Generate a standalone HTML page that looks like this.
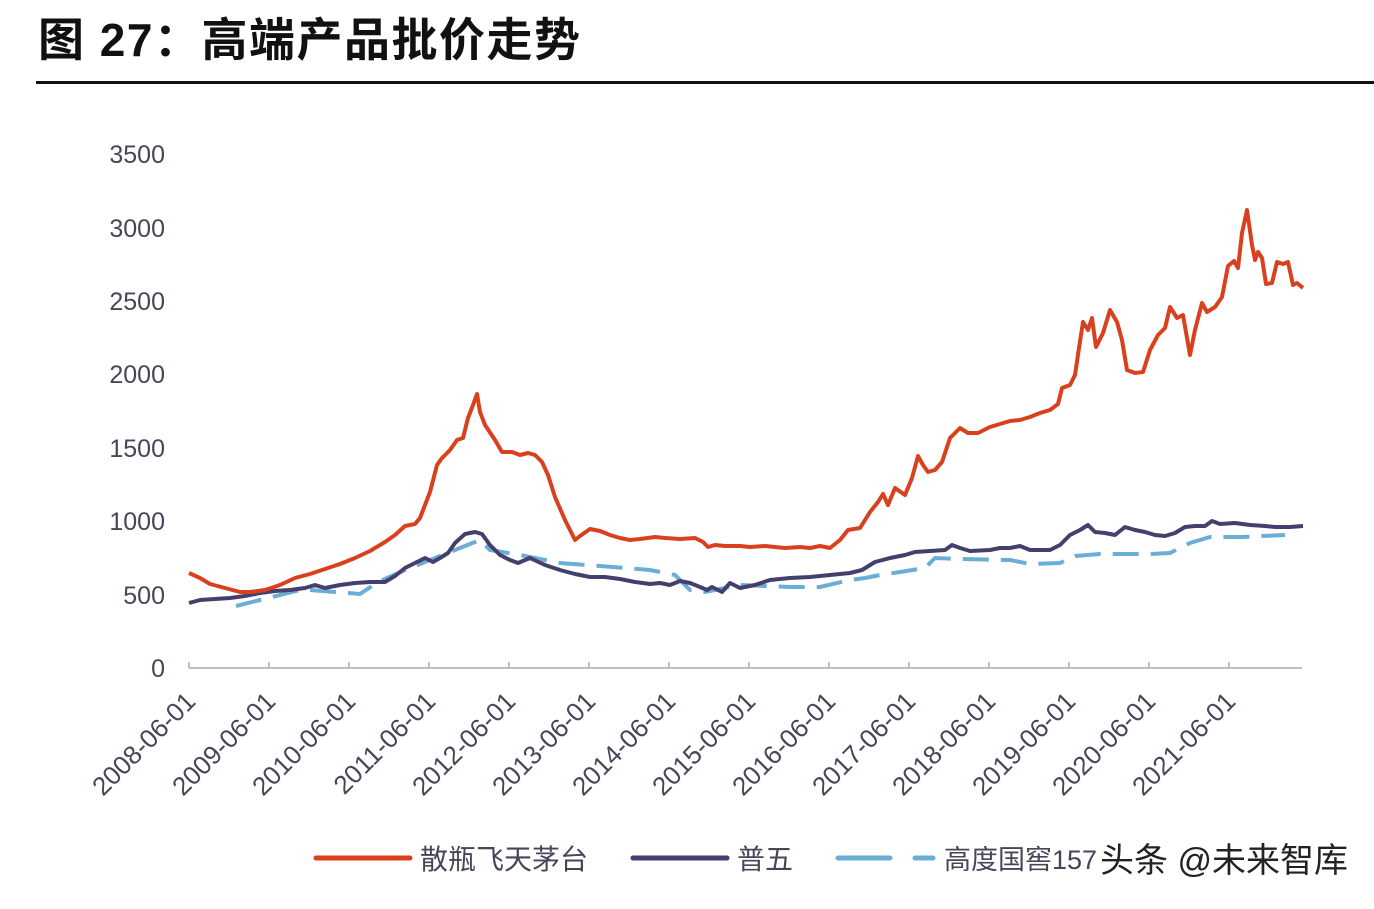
<!DOCTYPE html>
<html><head><meta charset="utf-8"><style>
body{margin:0;background:#fff;}
svg text{font-family:"Liberation Sans","Noto Sans CJK SC",sans-serif;}
</style></head><body>
<svg width="1374" height="904" viewBox="0 0 1374 904" xmlns="http://www.w3.org/2000/svg">
<rect width="1374" height="904" fill="#fff"/>
<text x="38" y="56" font-size="46" font-weight="bold" fill="#111" letter-spacing="1.5">图 27：高端产品批价走势</text>
<rect x="36" y="81" width="1338" height="3" fill="#111"/>
<g font-size="25" fill="#4a4458" text-anchor="end">
<text x="165" y="677">0</text><text x="165" y="604">500</text><text x="165" y="530">1000</text>
<text x="165" y="457">1500</text><text x="165" y="383">2000</text><text x="165" y="310">2500</text>
<text x="165" y="237">3000</text><text x="165" y="163">3500</text>
</g>
<line x1="189" y1="668" x2="1302" y2="668" stroke="#aaa" stroke-width="1.5"/>
<g stroke="#aaa" stroke-width="1.5">
<line x1="189" y1="662" x2="189" y2="668"/><line x1="269" y1="662" x2="269" y2="668"/><line x1="349" y1="662" x2="349" y2="668"/><line x1="429" y1="662" x2="429" y2="668"/><line x1="509" y1="662" x2="509" y2="668"/><line x1="589" y1="662" x2="589" y2="668"/><line x1="669" y1="662" x2="669" y2="668"/><line x1="749" y1="662" x2="749" y2="668"/><line x1="829" y1="662" x2="829" y2="668"/><line x1="909" y1="662" x2="909" y2="668"/><line x1="989" y1="662" x2="989" y2="668"/><line x1="1069" y1="662" x2="1069" y2="668"/><line x1="1149" y1="662" x2="1149" y2="668"/><line x1="1229" y1="662" x2="1229" y2="668"/>
</g>
<g font-size="26" fill="#4a4458" text-anchor="end">
<text transform="translate(197,703) rotate(-45)">2008-06-01</text>
<text transform="translate(277,703) rotate(-45)">2009-06-01</text>
<text transform="translate(357,703) rotate(-45)">2010-06-01</text>
<text transform="translate(437,703) rotate(-45)">2011-06-01</text>
<text transform="translate(517,703) rotate(-45)">2012-06-01</text>
<text transform="translate(597,703) rotate(-45)">2013-06-01</text>
<text transform="translate(677,703) rotate(-45)">2014-06-01</text>
<text transform="translate(757,703) rotate(-45)">2015-06-01</text>
<text transform="translate(837,703) rotate(-45)">2016-06-01</text>
<text transform="translate(917,703) rotate(-45)">2017-06-01</text>
<text transform="translate(997,703) rotate(-45)">2018-06-01</text>
<text transform="translate(1077,703) rotate(-45)">2019-06-01</text>
<text transform="translate(1157,703) rotate(-45)">2020-06-01</text>
<text transform="translate(1237,703) rotate(-45)">2021-06-01</text>
</g>
<polyline fill="none" stroke="#6aaed6" stroke-width="4" stroke-dasharray="26,12" points="236,606 260,600 300,590 310,590 360,594 378,582 405,570 430,560 440,556 460,548 480,540 490,550 520,555 560,563 600,566 650,570 675,575 690,590 705,592 720,589 740,585 790,587 820,587 850,580 865,578 880,575 900,572 925,568 935,558 960,559 1010,560 1030,564 1060,563 1075,556 1100,554 1150,554 1170,553 1190,543 1210,537 1240,537 1285,535"/>
<polyline fill="none" stroke="#453f6e" stroke-width="4" stroke-linejoin="round" points="189,603 200,600 215,599 230,598 245,596 260,593 275,591 290,590 305,588 315,585 325,588 340,585 355,583 370,582 385,582 395,576 405,568 415,563 425,558 433,562 440,558 448,553 455,543 465,534 475,532 482,534 490,545 500,555 510,560 518,563 530,558 545,565 560,570 575,574 590,577 605,577 620,579 635,582 650,584 660,583 670,585 680,581 690,583 700,587 707,590 712,587 722,592 730,583 740,588 755,585 770,580 790,578 810,577 830,575 850,573 862,570 875,562 890,558 905,555 915,552 930,551 945,550 952,545 960,548 970,551 990,550 1000,548 1010,548 1020,546 1030,550 1040,550 1050,550 1060,545 1070,535 1080,530 1088,525 1095,532 1105,533 1115,535 1125,527 1135,530 1145,532 1155,535 1165,536 1175,533 1185,527 1195,526 1205,526 1212,521 1220,524 1235,523 1250,525 1265,526 1275,527 1290,527 1303,526"/>
<polyline fill="none" stroke="#d9401e" stroke-width="4" stroke-linejoin="round" points="189,573 200,578 210,584 225,588 240,592 250,592 265,590 280,585 295,578 310,574 325,569 340,564 355,558 370,551 385,542 395,535 405,526 415,524 420,518 430,492 437,465 442,458 450,450 457,440 463,438 468,418 473,405 477,394 480,412 485,425 495,440 502,452 512,452 520,455 528,453 535,455 542,462 548,475 555,497 565,520 575,540 580,536 590,529 600,531 610,535 620,538 630,540 640,539 655,537 665,538 680,539 695,538 703,542 708,547 715,545 725,546 740,546 750,547 765,546 775,547 785,548 800,547 810,548 820,546 830,548 840,540 848,530 860,528 870,512 878,502 883,494 888,505 895,488 905,495 912,478 918,456 923,465 928,472 935,470 942,462 950,438 960,428 968,433 978,433 990,427 1000,424 1010,421 1020,420 1030,417 1040,413 1050,410 1058,404 1062,388 1070,385 1075,375 1079,348 1083,322 1088,330 1092,318 1096,347 1103,333 1110,310 1117,322 1122,340 1127,370 1135,373 1143,372 1150,350 1158,335 1165,328 1170,307 1177,318 1183,315 1190,355 1195,330 1202,303 1207,312 1215,307 1222,297 1228,266 1234,261 1238,268 1242,233 1247,210 1252,245 1255,260 1258,252 1262,258 1266,284 1272,283 1277,262 1283,264 1288,262 1293,285 1297,283 1303,288"/>
<line x1="316" y1="858" x2="410" y2="858" stroke="#d9401e" stroke-width="5" stroke-linecap="round"/>
<text x="420" y="869" font-size="28" fill="#4a4458">散瓶飞天茅台</text>
<line x1="633" y1="858" x2="727" y2="858" stroke="#453f6e" stroke-width="5" stroke-linecap="round"/>
<text x="737" y="869" font-size="28" fill="#4a4458">普五</text>
<line x1="838" y1="858" x2="890" y2="858" stroke="#6aaed6" stroke-width="5" stroke-linecap="round"/>
<line x1="915" y1="858" x2="933" y2="858" stroke="#6aaed6" stroke-width="5" stroke-linecap="round"/>
<text x="944" y="869" font-size="27" fill="#4a4458">高度国窖157</text>
<text x="1100" y="872" font-size="34" fill="#222">头条 @未来智库</text>
</svg>
</body></html>
